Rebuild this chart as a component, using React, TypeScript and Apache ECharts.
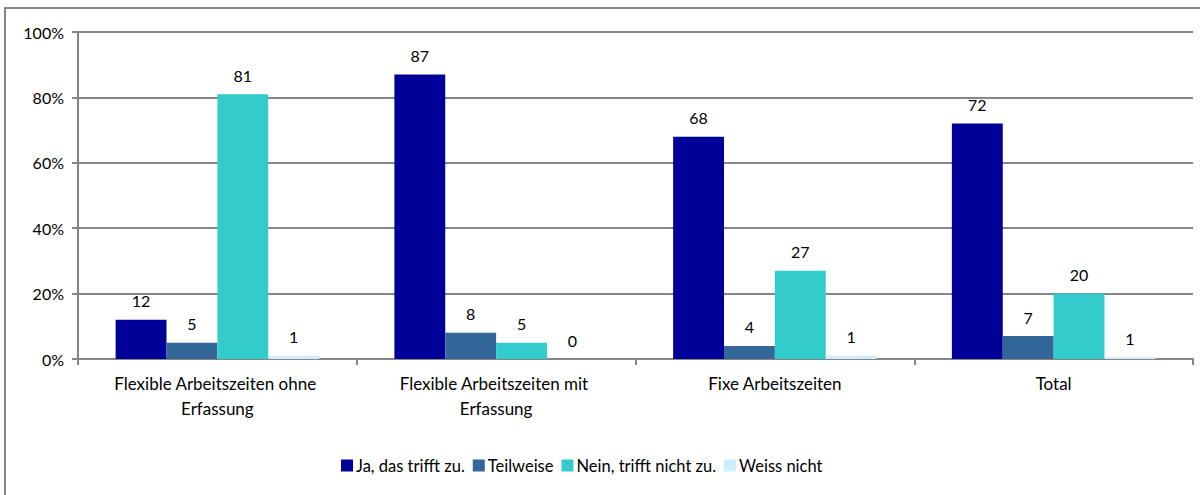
import React, { useEffect, useRef } from "react";
import * as echarts from "echarts";

const categories = [
  "Flexible Arbeitszeiten ohne Erfassung",
  "Flexible Arbeitszeiten mit Erfassung",
  "Fixe Arbeitszeiten",
  "Total",
];
const seriesNames = ["Ja, das trifft zu.", "Teilweise", "Nein, trifft nicht zu.", "Weiss nicht"];
const jaValues = [12, 87, 68, 72];
const teilweiseValues = [5, 8, 4, 7];
const neinValues = [81, 5, 27, 20];
const weissValues = [1, 0, 1, 0.5];
const seriesColors = ["#000099", "#336699", "#33CCCC", "#CCECFF"];
const yTicks = [0, 20, 40, 60, 80, 100];

const FONT = "Lato, 'Open Sans', sans-serif";

export default function App() {
  const ref = useRef<HTMLDivElement>(null);
  useEffect(() => {
    document.body.style.margin = "0";
    if (!ref.current) return;
    const chart = echarts.init(ref.current, null, { renderer: "svg" });
    const allValues = [jaValues, teilweiseValues, neinValues, weissValues];
    chart.setOption({
      animation: false,
      backgroundColor: "#ffffff",
      textStyle: { fontFamily: FONT, color: "#000" },
      graphic: [
        {
          type: "rect",
          shape: { x: 5, y: 8, width: 1300, height: 600 },
          style: { fill: "none", stroke: "#868686", lineWidth: 2 },
          silent: true,
        },
      ],
      grid: { left: 78, top: 32, right: 7, bottom: 136, containLabel: false },
      legend: {
        bottom: 16,
        left: 336,
        itemWidth: 12,
        itemHeight: 12,
        itemGap: 8,
        icon: "rect",
        textStyle: { fontFamily: FONT, fontSize: 16.5, color: "#000", padding: [0, 0, 0, -2] },
        data: seriesNames,
      },
      xAxis: {
        type: "category",
        data: categories,
        axisLine: { show: true, lineStyle: { color: "#868686", width: 2 } },
        axisTick: { show: true, length: 6, lineStyle: { color: "#868686", width: 2 } },
        axisLabel: {
          fontFamily: FONT,
          fontSize: 17,
          color: "#000",
          margin: 12,
          lineHeight: 25,
          width: 250,
          overflow: "break",
          interval: 0,
        },
      },
      yAxis: {
        type: "value",
        min: yTicks[0],
        max: yTicks[yTicks.length - 1],
        interval: 20,
        axisLine: { show: true, lineStyle: { color: "#868686", width: 2 } },
        axisTick: { show: true, length: 6, lineStyle: { color: "#868686", width: 2 } },
        splitLine: { show: true, lineStyle: { color: "#868686", width: 2 } },
        axisLabel: {
          fontFamily: FONT,
          fontSize: 16,
          color: "#000",
          margin: 14,
          formatter: (v: number) => `${v}%`,
        },
      },
      series: seriesNames.map((name, i) => ({
        name,
        type: "bar",
        data: allValues[i],
        barGap: "0%",
        barCategoryGap: "27%",
        itemStyle: { color: seriesColors[i] },
        label: {
          show: true,
          position: "top",
          distance: 11,
          fontFamily: FONT,
          fontSize: 16,
          color: "#000",
          formatter: (p: any) => `${Math.round(p.value)}`,
        },
      })),
    });
    return () => chart.dispose();
  }, []);
  return <div ref={ref} style={{ width: 1200, height: 495 }} />;
}
